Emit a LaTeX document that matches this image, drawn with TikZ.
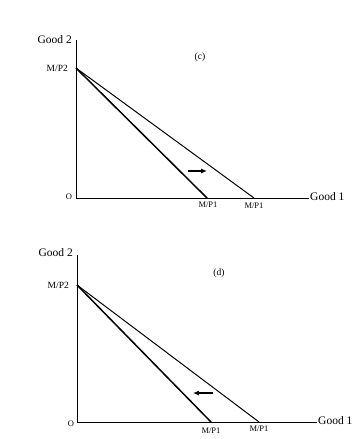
\documentclass[tikz,border=0pt]{standalone}
\usepackage{fontspec}
\setmainfont{Liberation Serif}
\usetikzlibrary{arrows.meta}
\begin{document}
\begin{tikzpicture}[x=1pt,y=-1pt,
  axis/.style={line width=1pt},
  thick line/.style={line width=1.5pt},
  thin line/.style={line width=1pt},
  shift arrow/.style={line width=1.1pt,-{Latex[length=6pt,width=5pt]}},
  lab/.style={inner sep=0pt,font=\fontsize{11.5}{12}\selectfont},
  small/.style={inner sep=0pt,font=\fontsize{9.5}{10}\selectfont},
  tiny/.style={inner sep=0pt,font=\fontsize{8.5}{9}\selectfont}]
\useasboundingbox (0,0) rectangle (361,439);
% panel (c)
\coordinate (c-top) at (76,40);
\coordinate (c-o) at (76,198);
\coordinate (c-end) at (309,198);
\coordinate (c-y) at (76,68);
\coordinate (c-x1) at (207,198);
\coordinate (c-x2) at (254,198);
\coordinate (c-a1) at (188,171);
\coordinate (c-a2) at (207,171);
\draw[axis] (c-top) -- (c-o) -- (c-end);
\draw[thick line] (c-y) -- (c-x1);
\draw[thin line] (c-y) -- (c-x2);
\draw[shift arrow] (c-a1) -- (c-a2);
\node[lab,anchor=east] (c-g2) at (72,40) {Good 2};
\node[small,anchor=east] (c-mp2) at (68,68) {M/P2};
\node[lab,anchor=west] (c-g1) at (310,197) {Good 1};
\node[tiny] (c-o-lab) at (69,197) {O};
\node[tiny] (c-mp1a) at (208,205) {M/P1};
\node[tiny] (c-mp1b) at (254,206) {M/P1};
\node[small] (c-title) at (200,57) {(c)};
% panel (d)
\coordinate (d-top) at (77,255);
\coordinate (d-o) at (77,422);
\coordinate (d-end) at (317,422);
\coordinate (d-y) at (77,285);
\coordinate (d-x1) at (211,422);
\coordinate (d-x2) at (259,422);
\coordinate (d-a1) at (213,393);
\coordinate (d-a2) at (193,393);
\draw[axis] (d-top) -- (d-o) -- (d-end);
\draw[thick line] (d-y) -- (d-x1);
\draw[thin line] (d-y) -- (d-x2);
\draw[shift arrow] (d-a1) -- (d-a2);
\node[lab,anchor=east] (d-g2) at (73,253) {Good 2};
\node[small,anchor=east] (d-mp2) at (69,285) {M/P2};
\node[lab,anchor=west] (d-g1) at (318,421) {Good 1};
\node[tiny] (d-o-lab) at (71,424) {O};
\node[tiny] (d-mp1a) at (211,431) {M/P1};
\node[tiny] (d-mp1b) at (259,429) {M/P1};
\node[small] (d-title) at (219,273) {(d)};
\end{tikzpicture}
\end{document}
